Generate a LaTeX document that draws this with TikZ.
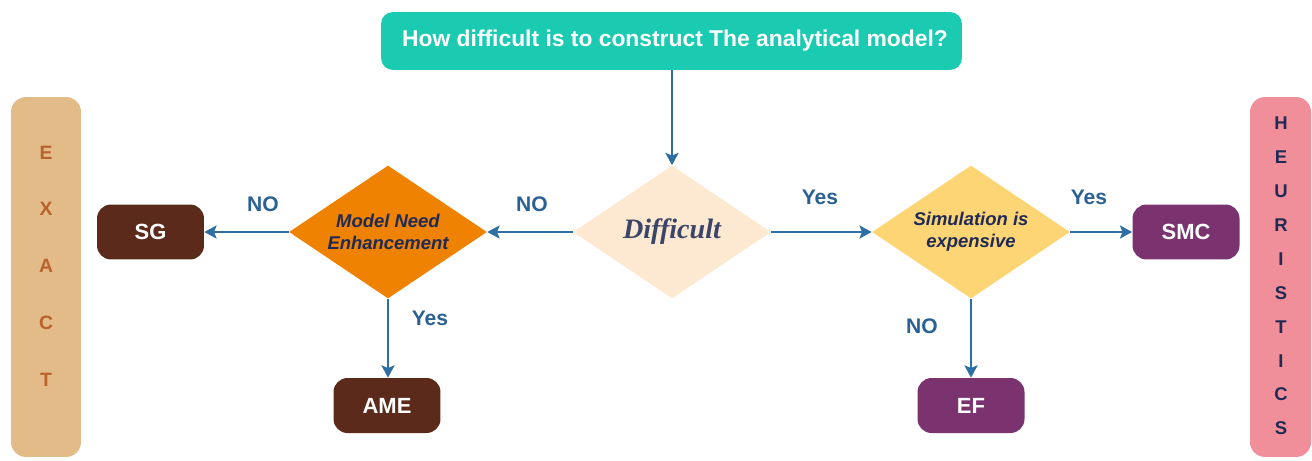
\documentclass[tikz,border=0pt]{standalone}
\usepackage{fontspec}
\setmainfont{Liberation Sans}
\newfontfamily\diffserif{Liberation Serif}
\usetikzlibrary{shapes.geometric,arrows.meta}

\definecolor{teal}{HTML}{1ACBB1}
\definecolor{peach}{HTML}{FDE9D1}
\definecolor{orangeD}{HTML}{EF8200}
\definecolor{yellowD}{HTML}{FDD574}
\definecolor{brownB}{HTML}{5B2A1B}
\definecolor{purpleB}{HTML}{7B3370}
\definecolor{tanbar}{HTML}{E2BB89}
\definecolor{pinkbar}{HTML}{F08F9A}
\definecolor{flowblue}{HTML}{2D6FA3}
\definecolor{answerblue}{HTML}{2A6195}
\definecolor{exactletter}{HTML}{B9622C}
\definecolor{navy}{HTML}{1F2A55}
\definecolor{diffgray}{HTML}{3A4567}

\begin{document}
\begin{tikzpicture}[
        x=0.02cm, y=-0.02cm,
        result/.style = {rectangle, rounded corners=0.28cm, fill=#1, text=white, inner sep=0,
                minimum width=2.14cm, minimum height=1.1cm, font=\bfseries\fontsize{12.5}{15}\selectfont},
        decision/.style = {diamond, fill=#1, inner sep=0, aspect=1.5, align=center, text=navy,
                minimum width=3.96cm, minimum height=2.66cm, font=\bfseries\itshape\fontsize{10.5}{12.5}\selectfont},
        answer/.style = {text=answerblue, inner sep=0, font=\bfseries\fontsize{12}{14}\selectfont},
        side/.style = {rectangle, rounded corners=0.3cm, fill=#1, minimum height=7.2cm},
        flow/.style = {->, draw=flowblue, line width=1pt},
        >={Stealth[length=7pt,width=7.5pt,inset=1.5pt]}
        ]

        \useasboundingbox (0,0) rectangle (1312,460);

        % side bars
        \node (exact) at (46,277) [side=tanbar, minimum width=1.4cm] {};
        \node (heur) at (1280.5,277) [side=pinkbar, minimum width=1.22cm] {};
        \node (exactT) at (46,266) [text=exactletter, align=center, inner sep=0,
                font=\bfseries\fontsize{11}{32.3}\selectfont] {E\\X\\A\\C\\T};
        \node (heurT) at (1281,276) [text=navy, align=center, inner sep=0,
                font=\bfseries\fontsize{10.5}{19.3}\selectfont] {H\\E\\U\\R\\I\\S\\T\\I\\C\\S};

        % question and decisions
        \node (quest) at (671.5,41) [rectangle, rounded corners=0.24cm, fill=teal, text=white,
                minimum width=11.62cm, minimum height=1.16cm,
                font=\bfseries\fontsize{13}{15}\selectfont] {\hspace{0.14cm}How difficult is to construct The analytical model?};
        \node (diff) at (672,232) [decision=peach, text=diffgray,
                font=\diffserif\bfseries\itshape\fontsize{16}{18}\selectfont] {Difficult};
        \node (enh) at (388,232) [decision=orangeD] {Model Need\\Enhancement};
        \node (simul) at (971,232) [decision=yellowD] {Simulation is\\expensive};

        % results
        \node (sg) at (150.5,232) [result=brownB] {SG};
        \node (ame) at (387,405.5) [result=brownB] {AME};
        \node (smc) at (1186,232) [result=purpleB] {SMC};
        \node (ef) at (971,405.5) [result=purpleB] {EF};

        % connectors
        \draw[flow] (quest.south -| diff.north) -- (diff.north);
        \draw[flow] (diff.west) -- (enh.east);
        \draw[flow] (enh.west) -- (sg.east);
        \draw[flow] (enh.south) -- (ame.north -| enh.south);
        \draw[flow] (diff.east) -- (simul.west);
        \draw[flow] (simul.east) -- (smc.west);
        \draw[flow] (simul.south) -- (ef.north);

        % answers
        \node (noSG) at (263,204) [answer] {NO};
        \node (noEnh) at (532,204) [answer] {NO};
        \node (yesSim) at (820,197) [answer] {Yes};
        \node (yesSMC) at (1089,197) [answer] {Yes};
        \node (yesAME) at (430,318) [answer] {Yes};
        \node (noEF) at (922,326) [answer] {NO};

    \end{tikzpicture}
\end{document}
